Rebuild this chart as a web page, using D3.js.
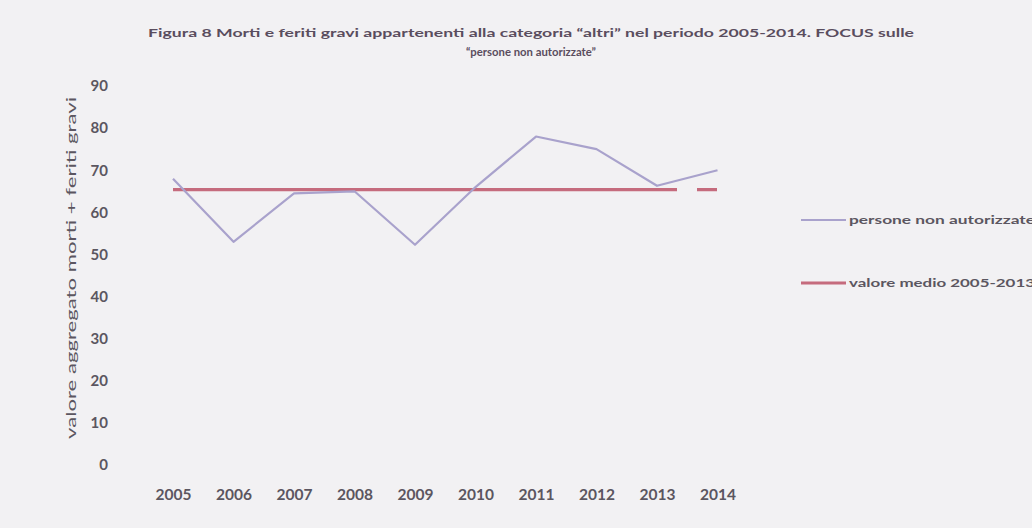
<!DOCTYPE html>
<html><head><meta charset="utf-8">
<script src="https://cdn.jsdelivr.net/npm/d3@7"></script>
<style>
html,body{margin:0;padding:0;background:#f2f1f3;}
svg{display:block;font-family:Lato,"Open Sans",sans-serif;}
</style></head>
<body><svg id="c" width="1032" height="528"></svg>
<script>
const years = ["2005","2006","2007","2008","2009","2010","2011","2012","2013","2014"];
const persone = [68, 53, 64.5, 65, 52.3, 66, 78, 75, 66.3, 70];
const media = [65.4, 65.4, 65.4, 65.4, 65.4, 65.4, 65.4, 65.4, 65.4, 65.4];
const yTicks = [0,10,20,30,40,50,60,70,80,90];
const titleLines = ["Figura 8 Morti e feriti gravi appartenenti alla categoria \u201caltri\u201d  nel periodo 2005-2014. FOCUS sulle", "\u201cpersone non autorizzate\u201d"];
const yTitle = "valore aggregato morti + feriti gravi";
const legendLabels = ["persone non autorizzate", "valore medio 2005-2013"];

const svg = d3.select("#c");
const textCol = "#5b5660";
const lineCol = "#a9a2cc";
const meanCol = "#c56b7d";

const x = d3.scalePoint().domain(years).range([142.75, 747.75]).padding(0.5);
const y = d3.scaleLinear().domain([0, 90]).range([465, 86]);

// title
svg.append("text").attr("x", 531).attr("y", 37).attr("text-anchor","middle")
  .attr("font-size", 12).attr("font-weight","bold").attr("fill","#5a4d5e")
  .attr("textLength", 766).attr("lengthAdjust","spacingAndGlyphs").text(titleLines[0]);
svg.append("text").attr("x", 531).attr("y", 56).attr("text-anchor","middle")
  .attr("font-size", 12).attr("font-weight","bold").attr("fill","#5a4d5e")
  .attr("textLength", 130).attr("lengthAdjust","spacingAndGlyphs").text(titleLines[1]);

// y axis
const yAxis = d3.axisLeft(y).tickValues(yTicks).tickSize(0).tickPadding(0);
const gy = svg.append("g").attr("transform","translate(108,0)").call(yAxis);
gy.select(".domain").remove();
gy.selectAll("text").attr("font-size", 15).attr("font-weight","bold").attr("fill", textCol)
  .attr("font-family","Lato,'Open Sans',sans-serif");

// x axis
const xAxis = d3.axisBottom(x).tickSize(0).tickPadding(0);
const gx = svg.append("g").attr("transform","translate(0,489)").call(xAxis);
gx.select(".domain").remove();
gx.selectAll("text").attr("font-size", 15.5).attr("font-weight","bold").attr("fill", textCol)
  .attr("font-family","Lato,'Open Sans',sans-serif");

// y title
svg.append("text").attr("transform","translate(76,268) rotate(-90)").attr("text-anchor","middle")
  .attr("font-size", 12.5).attr("fill", textCol)
  .attr("textLength", 342).attr("lengthAdjust","spacingAndGlyphs").text(yTitle);

// mean line (solid until 2013, dashed to 2014)
const line = d3.line().x((d,i)=>x(years[i])).y(d=>y(d));
svg.append("path").attr("d", d3.line().x((d,i)=>x(years[i])).y(d=>y(d))(media.slice(0, 9)))
  .attr("fill","none").attr("stroke", meanCol).attr("stroke-width", 3.2);
svg.append("path").attr("d", d3.line().x((d,i)=>x(years[i+8])).y(d=>y(d))(media.slice(8)))
  .attr("fill","none").attr("stroke", meanCol).attr("stroke-width", 3.2).attr("stroke-dasharray","20,20");

// persone line
svg.append("path").attr("d", line(persone))
  .attr("fill","none").attr("stroke", lineCol).attr("stroke-width", 2.2).attr("stroke-linejoin","round");

// legend
const lg = [{y:220, col:lineCol, w:2.2}, {y:283, col:meanCol, w:3.2}];
lg.forEach((l,i)=>{
  svg.append("line").attr("x1",801).attr("x2",846).attr("y1",l.y).attr("y2",l.y)
    .attr("stroke", l.col).attr("stroke-width", l.w);
  svg.append("text").attr("x",849).attr("y",l.y+4).attr("font-size",11.5).attr("font-weight","bold")
    .attr("fill", textCol).attr("textLength", 186).attr("lengthAdjust","spacingAndGlyphs")
    .text(legendLabels[i]);
});
</script></body></html>
